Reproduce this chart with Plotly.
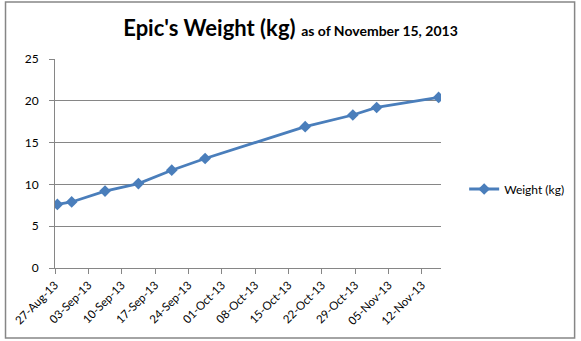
import plotly.graph_objects as go
from datetime import datetime, timedelta

# Weigh-in dates and weights
dates = ["2013-08-27", "2013-08-30", "2013-09-06", "2013-09-13", "2013-09-20",
         "2013-09-27", "2013-10-18", "2013-10-28", "2013-11-02", "2013-11-15"]
weights = [7.6, 7.9, 9.2, 10.1, 11.7, 13.1, 16.9, 18.3, 19.2, 20.4]

# Weekly tick labels
tick_labels = ["27-Aug-13", "03-Sep-13", "10-Sep-13", "17-Sep-13", "24-Sep-13",
               "01-Oct-13", "08-Oct-13", "15-Oct-13", "22-Oct-13", "29-Oct-13",
               "05-Nov-13", "12-Nov-13"]

# Each day occupies one slot; ticks sit on slot boundaries (half a day before)
start = datetime(2013, 8, 27) - timedelta(hours=12)
tick_vals = [start + timedelta(days=7 * i) for i in range(len(tick_labels))]
x_range = [start, datetime(2013, 11, 15, 12)]

FONT = "Lato, Calibri, Arial, sans-serif"
GRID = "#868686"
BLUE = "#4a7ebb"

fig = go.Figure()
fig.add_trace(go.Scatter(
    x=dates, y=weights, mode="lines+markers", name="Weight (kg)",
    line=dict(color=BLUE, width=2.8),
    marker=dict(symbol="diamond", size=9, color=BLUE),
))

fig.update_layout(
    width=581, height=341,
    margin=dict(l=53, r=138, t=59, b=73),
    paper_bgcolor="white", plot_bgcolor="white",
    font=dict(family=FONT, size=11, color="#000000"),
    title=dict(
        text="<b>Epic's Weight (kg)</b> <b><span style='font-size:14px'>as of November 15, 2013</span></b>",
        x=0.5, xanchor="center", xref="container", y=0.918, yref="container", yanchor="middle",
        font=dict(family=FONT, size=22, color="#000000"),
    ),
    xaxis=dict(
        type="date", range=x_range, tickvals=tick_vals, ticktext=tick_labels,
        tickangle=-45, showgrid=False, zeroline=False,
        showline=True, linecolor=GRID, linewidth=1,
        ticks="outside", ticklen=5, tickcolor=GRID,
        tickfont=dict(size=11.5, family=FONT),
    ),
    yaxis=dict(
        range=[0, 25], tickvals=[0, 5, 10, 15, 20, 25],
        showgrid=True, gridcolor=GRID, gridwidth=1, zeroline=False,
        showline=True, linecolor=GRID, linewidth=1,
        ticks="outside", ticklen=5, tickcolor=GRID,
        ticklabelstandoff=8,
        tickfont=dict(size=12, family=FONT),
    ),
    legend=dict(
        x=1.06, y=0.378, xanchor="left", yanchor="middle",
        font=dict(size=12, family=FONT), bgcolor="rgba(0,0,0,0)",
    ),
    showlegend=True,
)

# Chart area border
fig.add_shape(type="rect", xref="paper", yref="paper",
              x0=-50 / 390, x1=525 / 390, y0=-70 / 209, y1=266 / 209,
              line=dict(color=GRID, width=1.5), fillcolor="rgba(0,0,0,0)", layer="below")

fig.write_html("out.html")
